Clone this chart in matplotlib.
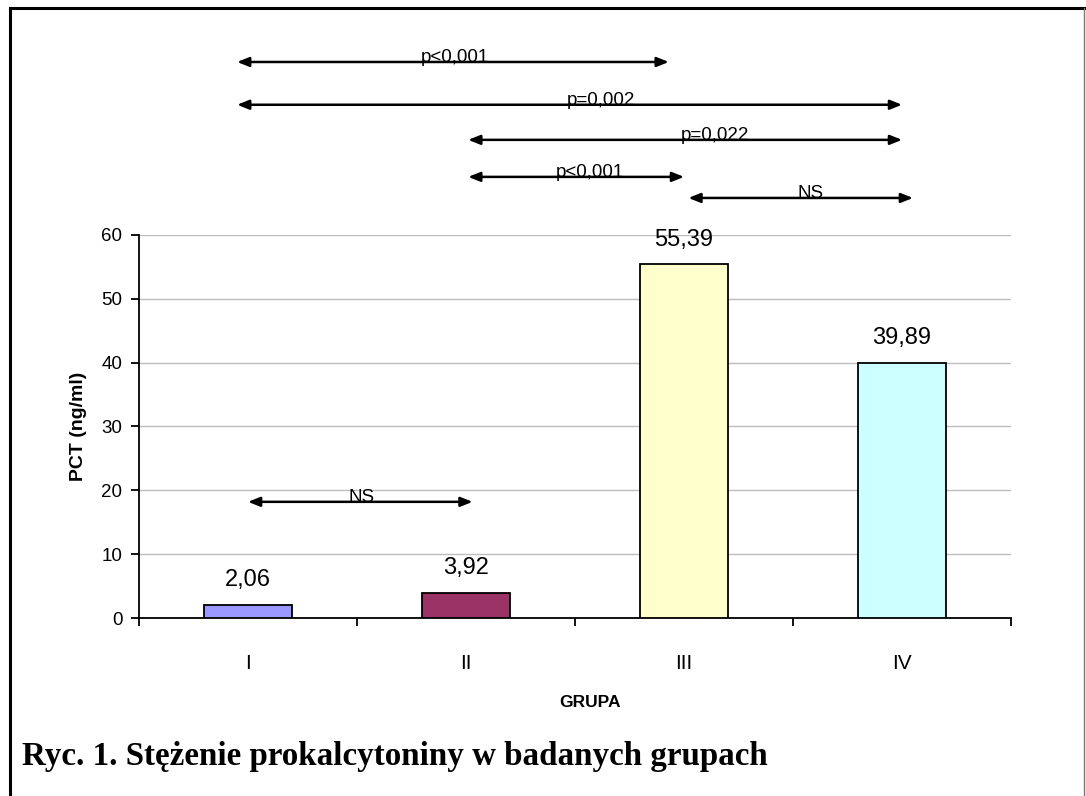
import numpy as np
import matplotlib.pyplot as plt
from matplotlib.lines import Line2D

groups = ["I", "II", "III", "IV"]
pct = [2.06, 3.92, 55.39, 39.89]
bar_colors = ["#9999FF", "#993366", "#FFFFCC", "#CCFFFF"]

# significance brackets: start, end, height, label, label position
comp_x0 = [-0.05, -0.05, 1.01, 1.01, 2.02, 0.0]
comp_x1 = [1.93, 3.0, 3.0, 2.0, 3.05, 1.03]
comp_y = [87.1, 80.4, 74.9, 69.1, 65.8, 18.2]
comp_txt = ["p<0,001", "p=0,002", "p=0,022", "p<0,001", "NS", "NS"]
comp_tx = [0.95, 1.62, 2.14, 1.57, 2.58, 0.52]

plt.rcParams['font.family'] = ['Liberation Sans', 'DejaVu Sans']

fig = plt.figure(figsize=(10.86, 7.96), dpi=100)
ax = fig.add_axes([0.128, 0.2236, 0.803, 0.4812])

x = np.arange(len(groups))
ax.bar(x, pct, width=0.4, color=bar_colors, edgecolor="black", linewidth=1.3, zorder=3)
for xi, v in zip(x, pct):
    ax.annotate(("%.2f" % v).replace(".", ","), (xi, v), xytext=(0, 10),
                textcoords="offset points", ha="center", va="bottom", fontsize=17)

ax.set_xlim(-0.5, 3.5)
ax.set_ylim(0, 60)
ax.set_yticks(np.arange(0, 61, 10))
ax.yaxis.grid(True, color="#BDBDBD", linewidth=1.0, zorder=0)
ax.set_axisbelow(True)

ax.set_xticks(x)
ax.set_xticklabels(groups, fontsize=15)
ax.set_xticks(np.arange(-0.5, 3.6, 1.0), minor=True)
ax.tick_params(axis="x", which="major", length=0, pad=26)
ax.tick_params(axis="x", which="minor", length=6, width=1.3, direction="out")
ax.tick_params(axis="y", length=6, width=1.3, labelsize=13.5, pad=6)

for s in ["top", "right"]:
    ax.spines[s].set_visible(False)
for s in ["left", "bottom"]:
    ax.spines[s].set_linewidth(1.3)

ax.set_xlabel("GRUPA", fontsize=12.5, fontweight="bold", labelpad=14)
ax.xaxis.set_label_coords(0.517, -0.2)
ax.set_ylabel("PCT (ng/ml)", fontsize=14, fontweight="bold", labelpad=10)

for x0, x1, yy, t, tx in zip(comp_x0, comp_x1, comp_y, comp_txt, comp_tx):
    ax.annotate("", xy=(x0, yy), xytext=(x1, yy), annotation_clip=False,
                arrowprops=dict(arrowstyle="<|-|>,head_length=0.7,head_width=0.28",
                                color="black", lw=1.8, shrinkA=0, shrinkB=0))
    ax.text(tx, yy - 0.7, t, ha="center", va="bottom", fontsize=13.5, clip_on=False)

fig.text(0.02, 0.049, "Ryc. 1. Stężenie prokalcytoniny w badanych grupach",
         family="Liberation Serif", fontweight="bold", fontsize=23.8, ha="left", va="center")

# frame around the figure
fig.add_artist(Line2D([0.0095, 0.0095], [0.0, 0.990], transform=fig.transFigure,
                      color="black", lw=2.2))
fig.add_artist(Line2D([0.0095, 0.999], [0.990, 0.990], transform=fig.transFigure,
                      color="black", lw=2.2))
fig.add_artist(Line2D([0.998, 0.998], [0.0, 0.990], transform=fig.transFigure,
                      color="#777777", lw=1.0))

fig.savefig("out.png", dpi=100)
